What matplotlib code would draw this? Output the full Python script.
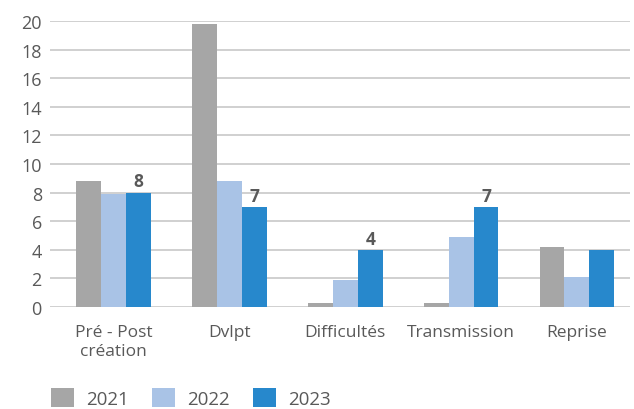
import numpy as np
import matplotlib
matplotlib.use("Agg")
import matplotlib.pyplot as plt

plt.rcParams['font.family'] = ['Open Sans', 'DejaVu Sans']

categories = ["Pré - Post\ncréation", "Dvlpt", "Difficultés", "Transmission", "Reprise"]
years = ["2021", "2022", "2023"]
v2021 = [8.8, 19.8, 0.3, 0.3, 4.2]
v2022 = [7.9, 8.8, 1.9, 4.9, 2.1]
v2023 = [8, 7, 4, 7, 4]
labelled_2023 = [True, True, True, True, False]

colors = ["#A6A6A6", "#A9C3E6", "#2788CC"]
txt = "#595959"

fig = plt.figure(figsize=(6.34, 4.10), dpi=100)
ax = fig.add_axes([0.079, 0.249, 0.915, 0.697])

x = np.arange(len(categories))
w = 0.215
series = [v2021, v2022, v2023]
for i, (vals, c, yr) in enumerate(zip(series, colors, years)):
    ax.bar(x + (i - 1) * w, vals, width=w, color=c, label=yr, zorder=3)

# value labels on the 2023 bars
for xi, v, show in zip(x, v2023, labelled_2023):
    if show:
        ax.text(xi + w, v + 0.15, f"{v:g}", ha="center", va="bottom",
                fontsize=12.5, fontweight="bold", color=txt)

ax.set_xlim(-0.55, 4.46)
ax.set_ylim(0, 20)
ax.set_yticks(range(0, 21, 2))
ax.grid(axis="y", color="#C8C8C8", linewidth=1.2, zorder=0)
for s in ax.spines.values():
    s.set_visible(False)
ax.tick_params(axis="both", length=0, labelsize=12.5, labelcolor=txt)
ax.tick_params(axis="y", labelsize=13, pad=6)
ax.tick_params(axis="x", pad=12)
ax.set_xticks(x)
ax.set_xticklabels(categories, linespacing=1.3)

fig.legend(loc="lower left", bbox_to_anchor=(0.054, -0.038), ncol=3, frameon=False,
           handlelength=1.23, handleheight=1.23, handletextpad=0.64, columnspacing=1.23,
           fontsize=13.5, labelcolor=txt)

fig.savefig("out.png", dpi=100)
